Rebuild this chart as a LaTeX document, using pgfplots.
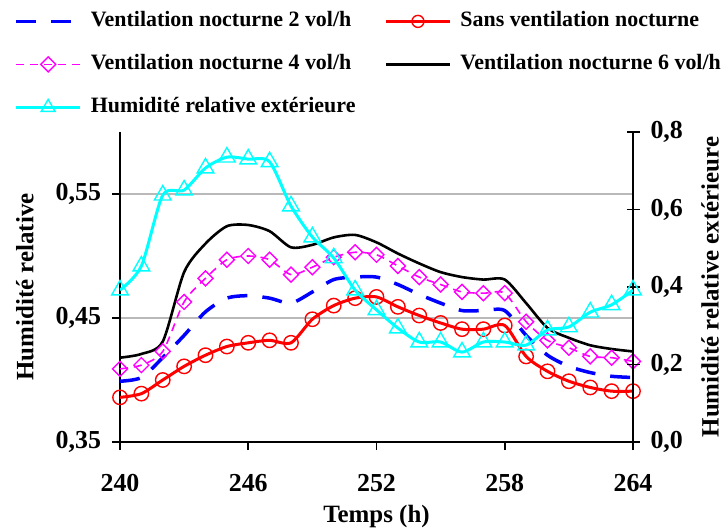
\documentclass[border=0pt]{standalone}
\usepackage{fontspec}
\setmainfont{Liberation Serif}
\usepackage{pgfplots}
\usepackage{pgfplotstable}
\pgfplotsset{compat=1.18}
\definecolor{cBlue}{RGB}{0,0,255}
\definecolor{cRed}{RGB}{255,0,0}
\definecolor{cMag}{RGB}{255,0,255}
\definecolor{cCyan}{RGB}{0,255,255}

\pgfplotstableread{
h    v2     sans   v4     v6     ext
240  0.399  0.386  0.409  0.418  0.392
241  0.402  0.389  0.412  0.421  0.454
242  0.418  0.400  0.423  0.431  0.637
243  0.436  0.411  0.463  0.487  0.650
244  0.455  0.420  0.482  0.510  0.707
245  0.466  0.427  0.497  0.524  0.735
246  0.468  0.430  0.500  0.525  0.730
247  0.466  0.432  0.497  0.520  0.723
248  0.462  0.430  0.485  0.507  0.609
249  0.471  0.449  0.491  0.509  0.529
250  0.481  0.460  0.499  0.515  0.475
251  0.483  0.466  0.503  0.517  0.392
252  0.483  0.467  0.501  0.511  0.341
253  0.477  0.459  0.492  0.502  0.294
254  0.469  0.452  0.483  0.494  0.258
255  0.462  0.446  0.477  0.487  0.258
256  0.456  0.441  0.471  0.483  0.232
257  0.456  0.441  0.470  0.481  0.258
258  0.456  0.444  0.470  0.481  0.258
259  0.436  0.419  0.447  0.462  0.250
260  0.420  0.407  0.432  0.442  0.289
261  0.411  0.399  0.426  0.434  0.297
262  0.406  0.394  0.419  0.428  0.335
263  0.403  0.391  0.418  0.425  0.354
264  0.402  0.391  0.415  0.423  0.392
}\datatable

\pgfplotsset{
  common/.style={
    scale only axis, width=256.5bp, height=155bp,
    at={(0,0)}, anchor=south west,
    xmin=240, xmax=264,
    axis line style={-, black, line width=1bp},
    tick style={black, line width=0.8bp},
    ticklabel style={font=\bfseries\fontsize{13}{15}\selectfont},
    label style={font=\bfseries\fontsize{12.5}{15}\selectfont},
  },
  leg/.style={legend image code/.code={%
    \draw[mark repeat=2,mark phase=2,#1] plot coordinates {(0bp,0bp)(16bp,0bp)(32bp,0bp)};}},
}

\begin{document}
\begin{tikzpicture}
\useasboundingbox (-60bp,-44bp) rectangle (301.5bp,221bp);
\begin{axis}[
  common,
  ymin=0.35, ymax=0.6,
  axis x line*=bottom, axis y line*=left,
  xtick={240,246,252,258,264}, xticklabels={240,246,252,258,264},
  ytick={0.35,0.45,0.55}, yticklabels={{0,35},{0,45},{0,55}},
  ymajorgrids, grid style={gray!55, line width=0.9bp},
  tick align=outside, major tick length=4bp,
  xticklabel style={yshift=-8.5bp},
  yticklabel style={xshift=-2bp},
  xlabel={Temps (h)}, ylabel={Humidité relative},
  xlabel style={at={(axis description cs:0.5,0)}, anchor=center, yshift=-37.5bp},
  ylabel style={at={(axis description cs:0,0.5)}, anchor=center, yshift=47.5bp},
]
\addplot[cBlue, line width=1.75bp, dash pattern=on 10bp off 7.5bp, smooth, tension=0.45] table[x=h,y=v2] {\datatable};
\addplot[cRed, line width=1.5bp, smooth, tension=0.45, mark=o, mark size=3.6bp, mark options={solid, line width=0.7bp}] table[x=h,y=sans] {\datatable};
\addplot[cMag, line width=0.8bp, dash pattern=on 4bp off 3bp, smooth, tension=0.45, mark=square, mark size=2.65bp, mark options={solid, rotate=45, line width=0.7bp}] table[x=h,y=v4] {\datatable};
\addplot[black, line width=1.3bp, smooth, tension=0.45] table[x=h,y=v6] {\datatable};
\end{axis}
\begin{axis}[
  common,
  ymin=0, ymax=0.8,
  axis x line=none, axis y line*=right,
  ytick={0,0.2,0.4,0.6,0.8}, yticklabels={{0,0},{0,2},{0,4},{0,6},{0,8}},
  tick align=center, major tick length=6.5bp,
  yticklabel style={xshift=2bp},
  ylabel={Humidité relative extérieure},
  ylabel style={at={(axis description cs:1,0.5)}, anchor=center, yshift=-38.5bp},
  legend columns=2,
  legend cell align=left,
  legend style={draw=none, fill=none, inner sep=0pt,
    at={(axis description cs:-0.2066,1.392)}, anchor=north west,
    font=\bfseries\fontsize{11}{13}\selectfont,
    row sep=11bp,
    nodes={inner sep=0pt, text height=8bp, text depth=2.5bp},
    /tikz/every odd column/.append style={column sep=4.5bp},
    /tikz/every even column/.append style={column sep=14.5bp},
  },
]
\addlegendimage{leg={cBlue, line width=1.75bp, dash pattern=on 10bp off 7.5bp}}
\addlegendentry{Ventilation nocturne 2 vol/h}
\addlegendimage{leg={cRed, line width=1.5bp, mark=o, mark size=3bp, mark options={solid, line width=0.7bp}}}
\addlegendentry{Sans ventilation nocturne}
\addlegendimage{leg={cMag, line width=0.8bp, dash pattern=on 4bp off 3bp, mark=square, mark size=2.65bp, mark options={solid, rotate=45, line width=0.7bp}}}
\addlegendentry{Ventilation nocturne 4 vol/h}
\addlegendimage{leg={black, line width=1.3bp}}
\addlegendentry{Ventilation nocturne 6 vol/h}
\addplot[cCyan, line width=1.5bp, smooth, tension=0.45, mark=triangle, mark size=4.8bp, mark options={solid, line width=0.7bp}, leg={cCyan, line width=1.5bp, mark=triangle, mark size=4bp, mark options={solid, line width=0.7bp}}] table[x=h,y=ext] {\datatable};
\addlegendentry{Humidité relative extérieure}
\end{axis}
\end{tikzpicture}
\end{document}
